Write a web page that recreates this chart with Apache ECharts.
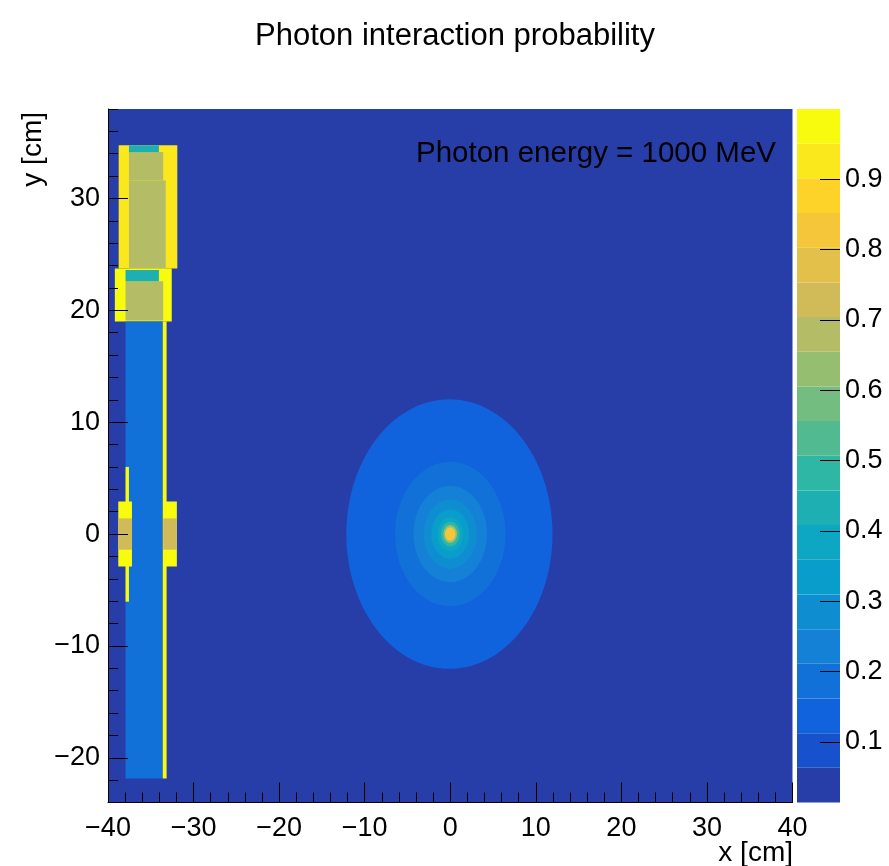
<!DOCTYPE html>
<html><head><meta charset="utf-8">
<script src="https://cdn.jsdelivr.net/npm/echarts@6/dist/echarts.min.js"></script>
<style>html,body{margin:0;padding:0;background:#fff}#c{width:889px;height:866px}</style>
</head><body><div id="c"></div>
<script>
// ---------- data ----------
const X_RANGE = [-40, 40];
const Y_RANGE = [-24, 38];
const Y_MAJOR_TICKS = [-20, -10, 0, 10, 20, 30];
const Z_RANGE = [0.0137, 1.0];
const Z_TICKS = [0.1, 0.2, 0.3, 0.4, 0.5, 0.6, 0.7, 0.8, 0.9];
const N_CONTOURS = 20;

// uniform regions of the histogram: [x0, x1, y0, y1, probability], painted in order
const backgroundRegion = [[-40, 40, -24, 38, 0.03]];
const detectorRegions = [
  // upper block
  [-38.75, -31.9, 23.75, 34.75, 0.92],
  [-37.55, -33.55, 31.6, 34.15, 0.68],
  [-37.55, -33.25, 23.75, 31.6, 0.68],
  [-37.55, -34.05, 34.15, 34.75, 0.43],
  // second block
  [-39.2, -32.55, 19.0, 23.75, 0.97],
  [-37.95, -33.55, 19.1, 22.6, 0.68],
  [-37.95, -34.05, 22.6, 23.6, 0.43],
  // long column and its thin right-hand wall
  [-37.95, -33.6, -21.85, 19.0, 0.19],
  [-33.6, -33.15, -21.85, 19.0, 0.97],
  // thin left rod
  [-37.95, -37.55, -6.05, 6.0, 0.97],
  // middle side blocks
  [-38.8, -37.2, -2.9, 2.9, 0.97],
  [-38.8, -37.2, -1.4, 1.4, 0.73],
  [-33.55, -31.95, -2.9, 2.9, 0.97],
  [-33.55, -31.95, -1.4, 1.4, 0.73]
];
// concentric target rings: [cx, cy, radius, probability], outermost first
const targetRings = [
  [-0.1, 0, 12.05, 0.14],
  [0, 0, 6.45, 0.19],
  [0, 0, 4.3, 0.23],
  [0, 0, 3.1, 0.27],
  [0, 0, 2.2, 0.31],
  [0, 0, 1.5, 0.37],
  [0, 0, 1.1, 0.47],
  [0, 0, 0.8, 0.62],
  [0, 0, 0.6, 0.85]
];

// ---------- palette (ROOT kBird) ----------
const BIRD_STOPS = [0.0, 0.125, 0.25, 0.375, 0.5, 0.625, 0.75, 0.875, 1.0];
const BIRD_R = [0.2082, 0.0592, 0.0780, 0.0232, 0.1802, 0.5301, 0.8186, 0.9956, 0.9764];
const BIRD_G = [0.1664, 0.3599, 0.5041, 0.6419, 0.7178, 0.7492, 0.7328, 0.7862, 0.9832];
const BIRD_B = [0.5293, 0.8684, 0.8385, 0.7914, 0.6425, 0.4662, 0.3499, 0.1968, 0.0539];
function bird(f) {
  let k = 0;
  while (k < BIRD_STOPS.length - 2 && f > BIRD_STOPS[k + 1]) k++;
  const t = (f - BIRD_STOPS[k]) / (BIRD_STOPS[k + 1] - BIRD_STOPS[k]);
  const c = a => Math.round(255 * (a[k] + (a[k + 1] - a[k]) * t));
  return 'rgb(' + c(BIRD_R) + ',' + c(BIRD_G) + ',' + c(BIRD_B) + ')';
}
const dz = (Z_RANGE[1] - Z_RANGE[0]) / N_CONTOURS;
const bandColors = [];
for (let i = 0; i < N_CONTOURS; i++) {
  bandColors.push(bird(Math.floor((i + 0.99) * 255 / N_CONTOURS) / 254));
}
function colorOf(v) {
  let i = Math.floor((v - Z_RANGE[0]) / dz);
  i = Math.max(0, Math.min(N_CONTOURS - 1, i));
  return bandColors[i];
}
const paletteBands = [];
for (let i = 0; i < N_CONTOURS; i++) {
  paletteBands.push([Z_RANGE[0] + i * dz, Z_RANGE[0] + (i + 1) * dz]);
}

// ---------- rendering ----------
const FONT = 'Liberation Sans, Arial, Helvetica, sans-serif';
const minus = v => (v < 0 ? '\u2212' + Math.abs(v) : String(v));

function renderRect(params, api) {
  const a = api.coord([api.value(0), api.value(3)]);
  const b = api.coord([api.value(1), api.value(2)]);
  return {
    type: 'rect',
    shape: { x: a[0], y: a[1], width: b[0] - a[0], height: b[1] - a[1] },
    style: { fill: colorOf(api.value(4)), stroke: null }
  };
}
function renderRing(params, api) {
  const cx = api.value(0), cy = api.value(1), r = api.value(2);
  const pts = [];
  for (let k = 0; k < 120; k++) {
    const t = 2 * Math.PI * k / 120;
    pts.push(api.coord([cx + r * Math.cos(t), cy + r * Math.sin(t)]));
  }
  return { type: 'polygon', shape: { points: pts }, style: { fill: colorOf(api.value(3)), stroke: null } };
}
function renderBand(params, api) {
  const a = api.coord([0, api.value(1)]);
  const b = api.coord([1, api.value(0)]);
  const v = (api.value(0) + api.value(1)) / 2;
  return {
    type: 'rect',
    shape: { x: a[0], y: a[1], width: b[0] - a[0], height: b[1] - a[1] },
    style: { fill: colorOf(v), stroke: null }
  };
}

const chart = echarts.init(document.getElementById('c'), null, { renderer: 'canvas' });
const axisBlack = { lineStyle: { color: '#000', width: 1 } };
chart.setOption({
  animation: false,
  backgroundColor: '#fff',
  title: {
    text: 'Photon interaction probability',
    left: 450, top: 16, textAlign: 'center',
    textStyle: { fontFamily: FONT, fontSize: 31, fontWeight: 'normal', color: '#000' }
  },
  grid: [
    { left: 108, top: 109, width: 684.5, height: 693.5, containLabel: false, outerBoundsMode: 'none' },
    { left: 797, top: 109, width: 43, height: 693.5, containLabel: false, outerBoundsMode: 'none' }
  ],
  xAxis: [
    {
      gridIndex: 0, type: 'value', min: X_RANGE[0], max: X_RANGE[1], interval: 10, z: 50, position: 'bottom',
      axisLine: { show: true, onZero: false, ...axisBlack },
      axisTick: { show: true, inside: true, length: 20, ...axisBlack },
      minorTick: { show: true, splitNumber: 5, length: 10, ...axisBlack },
      splitLine: { show: false },
      axisLabel: { formatter: minus, margin: 13, color: '#000', fontFamily: FONT, fontSize: 27, showMinLabel: true, showMaxLabel: true }
    },
    { gridIndex: 1, type: 'value', min: 0, max: 1, show: false, axisLine: { onZero: false } }
  ],
  yAxis: [
    {
      gridIndex: 0, type: 'value', min: Y_RANGE[0], max: Y_RANGE[1], interval: 2, z: 50, position: 'left',
      axisLine: { show: true, onZero: false, ...axisBlack },
      axisTick: { show: true, inside: true, length: 10, ...axisBlack },
      axisLabel: { show: false },
      splitLine: { show: false }
    },
    {
      gridIndex: 0, type: 'value', min: Y_RANGE[0], max: Y_RANGE[1], position: 'left', offset: 0, z: 50,
      axisLine: { show: false, onZero: false },
      axisTick: { show: true, inside: true, length: 20, customValues: Y_MAJOR_TICKS, ...axisBlack },
      axisLabel: { customValues: Y_MAJOR_TICKS, formatter: minus, margin: 8, color: '#000', fontFamily: FONT, fontSize: 27 },
      splitLine: { show: false }
    },
    {
      gridIndex: 1, type: 'value', min: Z_RANGE[0], max: Z_RANGE[1], position: 'right', z: 50,
      axisLine: { show: false, onZero: false },
      axisTick: { show: true, inside: true, length: 20, customValues: Z_TICKS, ...axisBlack },
      axisLabel: { customValues: Z_TICKS, formatter: v => v.toFixed(1), margin: 5, color: '#000', fontFamily: FONT, fontSize: 27 },
      splitLine: { show: false }
    }
  ],
  series: [
    {
      type: 'custom', name: 'background', xAxisIndex: 0, yAxisIndex: 0, z: 1,
      renderItem: renderRect, encode: { x: [0, 1], y: [2, 3] }, data: backgroundRegion, silent: true
    },
    {
      type: 'custom', name: 'detector', xAxisIndex: 0, yAxisIndex: 0, z: 2,
      renderItem: renderRect, encode: { x: [0, 1], y: [2, 3] }, data: detectorRegions, silent: true
    },
    {
      type: 'custom', name: 'target', xAxisIndex: 0, yAxisIndex: 0, z: 3,
      renderItem: renderRing, encode: { x: 0, y: 1 }, data: targetRings, silent: true
    },
    {
      type: 'custom', name: 'palette', xAxisIndex: 1, yAxisIndex: 2, z: 2,
      renderItem: renderBand, encode: { y: [0, 1] }, data: paletteBands, silent: true
    }
  ],
  graphic: [
    { type: 'text', z: 100, x: 776, y: 154, style: { text: 'Photon energy = 1000 MeV', fill: '#000', font: '29.5px ' + FONT, textAlign: 'right', textVerticalAlign: 'middle' } },
    { type: 'text', z: 100, x: 793, y: 853, style: { text: 'x [cm]', fill: '#000', font: '28px ' + FONT, textAlign: 'right', textVerticalAlign: 'middle' } },
    { type: 'text', z: 100, x: 33, y: 112, rotation: Math.PI / 2, style: { text: 'y [cm]', fill: '#000', font: '28px ' + FONT, textAlign: 'right', textVerticalAlign: 'middle' } }
  ]
});
</script>
</body></html>
